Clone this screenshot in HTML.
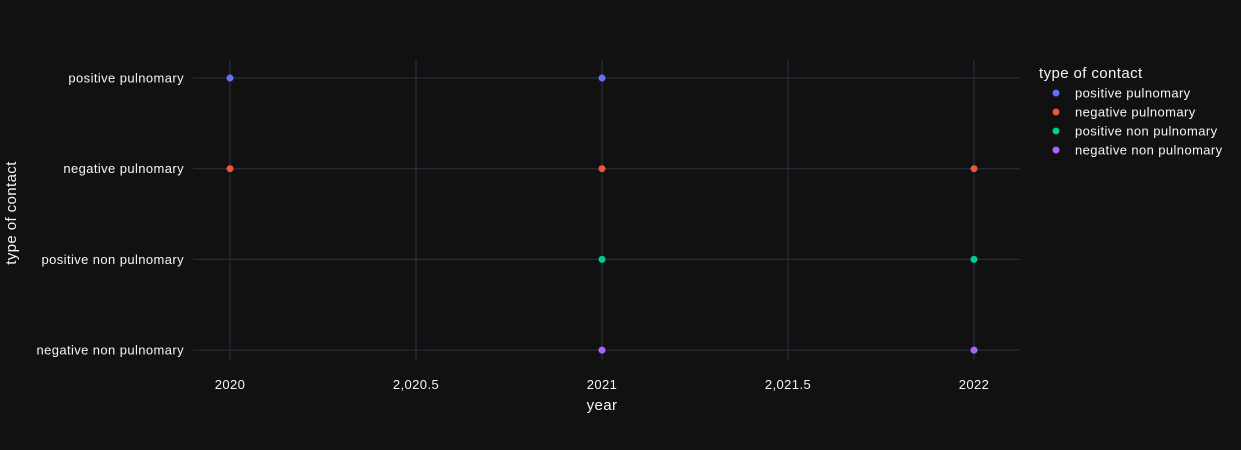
<!DOCTYPE html>
<html><head><meta charset="utf-8"><style>
body{margin:0;background:#111111;}
svg{display:block;font-family:"Liberation Sans",sans-serif;}
text{letter-spacing:0.4px;}
</style></head><body>
<svg id="chart" width="1241" height="450">
<rect width="1241" height="450" fill="#111111"/>
<g id="grid"></g><g id="marks"></g><g id="labels"></g><g id="legend"></g>
</svg>
<script>
const categories = ["positive pulnomary","negative pulnomary","positive non pulnomary","negative non pulnomary"];
const colors = ["#636efa","#EF553B","#00cc96","#ab63fa"];
const seriesYears = [[2020,2021],[2020,2021,2022],[2021,2022],[2021,2022]];
const xTicks = [2020,2020.5,2021,2021.5,2022];
const xTickLabels = ["2020","2,020.5","2021","2,021.5","2022"];
const NS="http://www.w3.org/2000/svg";
const L=193,R=1020,T=60,B=360;
const x=v=>230+(v-2020)*372;
const y=i=>78+i*90.7;
function mk(tag,attrs,parent,text){const e=document.createElementNS(NS,tag);for(const k in attrs)e.setAttribute(k,attrs[k]);if(text!==undefined)e.textContent=text;document.getElementById(parent).appendChild(e);return e;}
xTicks.forEach((t,i)=>{
  const g=mk('line',{x1:x(t),x2:x(t),y1:T,y2:B,stroke:'#283442','stroke-width':1},'grid');
  
  
  const l=mk('text',{x:x(t),y:389,fill:'#f2f5fa','font-size':13,'text-anchor':'middle'},'labels',xTickLabels[i]);
  
  
});
categories.forEach((c,i)=>{
  const g=mk('line',{x1:L,x2:R,y1:y(i),y2:y(i),stroke:'#283442','stroke-width':1},'grid');
  
  
  const l=mk('text',{x:184,y:y(i)+4.5,fill:'#f2f5fa','font-size':13,'text-anchor':'end'},'labels',c);
  
  
});
seriesYears.forEach((ys,i)=>{
  ys.forEach(v=>{
    const p=mk('circle',{cx:x(v),cy:y(i),r:3.5,fill:colors[i]},'marks');
    
    
  });
  const ly=93+i*19;
  const m=mk('circle',{cx:1056,cy:ly,r:3.5,fill:colors[i]},'legend');
  
  
  const t=mk('text',{x:1075,y:ly+4.5,fill:'#f2f5fa','font-size':13},'legend',categories[i]);
  
  
});
const lt=mk('text',{x:1039,y:78,fill:'#f2f5fa','font-size':15},'legend','type of contact');


const xt=mk('text',{x:602,y:410,fill:'#f2f5fa','font-size':15,'text-anchor':'middle'},'labels','year');


const yt=mk('text',{x:0,y:0,fill:'#f2f5fa','font-size':15,'text-anchor':'middle',transform:'translate(16,213) rotate(-90)'},'labels','type of contact');


</script>
</body></html>
